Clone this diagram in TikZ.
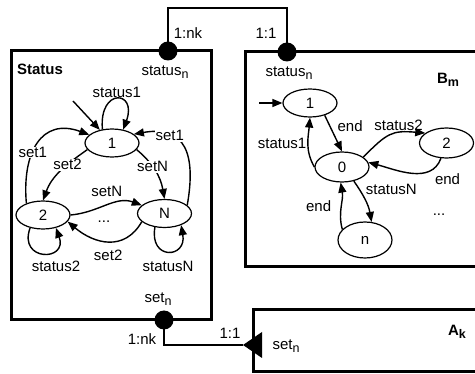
\documentclass[tikz,border=0pt]{standalone}
\usepackage{fontspec}
\setmainfont{Liberation Sans}
\usetikzlibrary{positioning,arrows.meta,shapes.geometric}

% lowered index, as in status_n
\newcommand{\lsub}[1]{\raisebox{-0.35ex}{\fontsize{12.5}{12.5}\selectfont #1}}

\begin{document}
\begin{tikzpicture}[
    x=1pt, y=1pt,
    every node/.style={font=\fontsize{15}{17}\selectfont, inner sep=1pt},
    box/.style={rectangle, draw, line width=3pt, outer sep=0pt},
    state/.style={ellipse, draw, line width=1.2pt, minimum width=54pt, minimum height=28pt, inner sep=0pt},
    port/.style={circle, fill, inner sep=0pt, minimum size=19pt},
    trans/.style={-{Triangle[length=10pt, width=8pt]}, line width=1.4pt},
    link/.style={line width=1.5pt},
    lbl/.style={fill=white, inner sep=0.5pt}
]
\clip (0,0) rectangle (475,-374);

% Boxes
\node[box, minimum width=200pt, minimum height=269pt] (statusbox) at (111,-185.5) {};
\node[box, minimum width=275pt, minimum height=215pt] (bmbox) at (382.5,-159.5) {};
\node[box, minimum width=267pt, minimum height=62pt] (akbox) at (386.5,-341) {};

% Ports
\node[port] (stport) at (168,-51) {};
\node[port] (bmport) at (287,-52) {};
\node[port] (setport) at (164,-320) {};
\coordinate (akport) at (243,-345);

% Links between ports
\draw[link] (stport.center) -- ++(0,43) -| (bmport.center);
\draw[link] (setport.center) |- (akport);
\fill (akport) -- ++(19,13) -- ++(0,-26) -- cycle;

\node (nktop) at (188,-33) {1:nk};
\node (onetop) at (266,-33) {1:1};
\node (nkbottom) at (142,-339) {1:nk};
\node (onebottom) at (230,-333) {1:1};

% Titles and port names
\node[font=\fontsize{15}{17}\selectfont\bfseries] (statustitle) at (40,-69) {Status};
\node[font=\fontsize{15}{17}\selectfont\bfseries] (bmtitle) at (448,-80) {B\lsub{m}};
\node[font=\fontsize{15}{17}\selectfont\bfseries] (aktitle) at (457,-332) {A\lsub{k}};
\node[below=4pt of stport, xshift=-3pt] (stportlbl) {status\lsub{n}};
\node[below=4pt of bmport, xshift=2pt] (bmportlbl) {status\lsub{n}};
\node[above=4pt of setport, xshift=-6pt] (setportlbl) {set\lsub{n}};
\node (akportlbl) at (286,-346) {set\lsub{n}};

% Status machine
\node[state] (s1) at (112,-143) {1};
\node[state] (s2) at (43,-215) {2};
\node[state] (sN) at (164.5,-213.5) {N};
\coordinate (s1in) at (73,-101);
\node (sdots) at (104,-222) {...};

\draw[trans] (s1in) -- (s1);
\draw[trans] (s1.125) .. controls +(95:42) and +(70:42) .. node[above] {status1} (s1.50);
\draw[trans] (s2.145) to[out=95, in=160, looseness=1.4] node[lbl, pos=0.4] {set1} (s1.160);
\draw[trans] (sN.20) to[out=80, in=10, looseness=1.5] node[lbl, pos=0.7] {set1} (s1.22);
\draw[trans] (s1.195) to[out=215, in=70] node[lbl, pos=0.35] {set2} (s2.north);
\draw[trans] (s1.345) to[out=-40, in=100] node[lbl, pos=0.4] {setN} (sN.north);
\draw[trans] (s2.east) to[out=5, in=160] node[above=7pt] {setN} (sN.160);
\draw[trans] (sN.200) to[out=240, in=-40, looseness=1.2] node[below=7pt] {set2} (s2.345);
\draw[trans] (s2.225) .. controls +(250:36) and +(290:36) .. node[below=6pt, xshift=13pt] {status2} (s2.315);
\draw[trans] (sN.235) .. controls +(260:34) and +(280:34) .. node[below=8pt] {statusN} (sN.325);

% B_m machine
\node[state] (b1) at (310,-103) {1};
\node[state, minimum height=30pt] (b0) at (342,-167) {0};
\node[state, minimum height=30pt] (b2) at (446.5,-143) {2};
\node[state, minimum height=36pt] (bn) at (365,-240) {n};
\coordinate (b1in) at (259,-103);
\node (bdots) at (439,-215) {...};

\draw[trans] (b1in) -- (b1);
\draw[trans] (b1.320) -- node[pos=0.3, right=6pt] {end} (b0.north);
\draw[trans] (b0.west) to[out=120, in=265] node[left] {status1} (b1.south);
\draw[trans] (b0.25) to[out=45, in=175, looseness=1.3] node[above, pos=0.65] {status2} (b2.155);
\draw[trans] (b2.250) to[out=250, in=-15] node[pos=0.25, below right=1pt and 4pt] {end} (b0.10);
\draw[trans] (b0.310) to[out=-55, in=100] node[right=5pt, pos=0.2] {statusN} (bn.70);
\draw[trans] (bn.155) to[out=105, in=-80] node[left=8pt] {end} (b0.265);

\end{tikzpicture}
\end{document}
